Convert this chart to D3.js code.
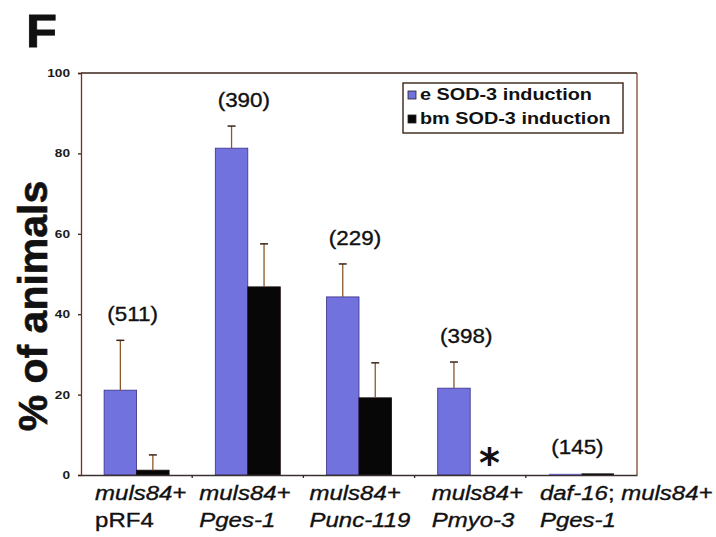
<!DOCTYPE html>
<html>
<head>
<meta charset="utf-8">
<script src="https://cdn.jsdelivr.net/npm/d3@7"></script>
<style>
  html, body { margin: 0; padding: 0; background: #ffffff; }
  svg { display: block; }
</style>
</head>
<body>
<script>
// Strains / constructs along the x axis (two text lines each)
const categoryLine1 = ["muls84+", "muls84+", "muls84+", "muls84+", "daf-16; muls84+"];
const categoryLine2 = ["pRF4", "Pges-1", "Punc-119", "Pmyo-3", "Pges-1"];
const sampleSizes = ["(511)", "(390)", "(229)", "(398)", "(145)"];

// % of animals with SOD-3 induction
const seriesNames = ["e SOD-3 induction", "bm SOD-3 induction"];
const eValues  = [21.1, 81.3, 44.3, 21.6, 0.3];
const eErrors  = [12.4, 5.5, 8.2, 6.5, 0];
const bmValues = [1.2, 46.8, 19.2, 0, 0.4];
const bmErrors = [3.8, 10.7, 8.7, 0, 0];

const yTicks = [0, 20, 40, 60, 80, 100];

const W = 716, H = 537;
const plot = { left: 81, right: 637, top: 73, bottom: 475 };
const blue = "#7272de", blueEdge = "#3b2f86", errColor = "#8a5a2a";
const sansFont = "'Liberation Sans', Arial, Helvetica, sans-serif";

const svg = d3.select("body").append("svg").attr("width", W).attr("height", H);

const x = d3.scaleBand().domain(d3.range(categoryLine1.length))
  .range([plot.left, plot.right]).paddingInner(0).paddingOuter(0);
const groupWidth = 65;
const xs = d3.scaleBand().domain(d3.range(seriesNames.length)).range([0, groupWidth]);
const y = d3.scaleLinear().domain([0, 100]).range([plot.bottom, plot.top]);
const groupLeft = i => x(i) + (x.bandwidth() - groupWidth) / 2;

// Text helper: horizontally widened sans text, optionally thickened
function wideText(parent, tx, ty, str, opts) {
  const t = parent.append("text")
    .attr("transform", `translate(${tx},${ty}) scale(${opts.sx || 1},1)`)
    .attr("font-family", sansFont)
    .attr("font-size", opts.size)
    .attr("font-weight", opts.weight || "normal")
    .attr("font-style", opts.style || "normal")
    .attr("text-anchor", opts.anchor || "start")
    .attr("fill", opts.fill || "#111")
    .text(str);
  if (opts.thick) t.attr("stroke", opts.fill || "#111").attr("stroke-width", opts.thick);
  return t;
}

// Panel letter
wideText(svg, 26, 47, "F", { size: 47, weight: "bold", sx: 1.08, thick: 0.8 });

// Frame (top and right edges)
svg.append("line").attr("x1", plot.left).attr("x2", plot.right)
  .attr("y1", plot.top).attr("y2", plot.top).attr("stroke", "#3a2418").attr("stroke-width", 1.6);
svg.append("line").attr("x1", plot.right).attr("x2", plot.right)
  .attr("y1", plot.top).attr("y2", plot.bottom).attr("stroke", "#7a3a22").attr("stroke-width", 1.2);

// Y axis
const yAxis = svg.append("g").attr("transform", `translate(${plot.left},0)`)
  .call(d3.axisLeft(y).tickValues(yTicks).tickSize(3).tickFormat(""));
yAxis.select(".domain").attr("stroke", "#7a2e22").attr("stroke-width", 1.3);
yAxis.selectAll(".tick line").attr("stroke", "#3a2418").attr("stroke-width", 1.3);
yTicks.forEach(v => {
  wideText(svg, 70, y(v) + 4, String(v), { size: 10.5, weight: "bold", sx: 1.3, anchor: "end", fill: "#1a1a1a" });
});

// Y title
svg.append("text")
  .attr("transform", `translate(47,306) rotate(-90)`)
  .attr("font-family", sansFont).attr("font-size", 41).attr("font-weight", "bold")
  .attr("text-anchor", "middle").attr("fill", "#111")
  .attr("stroke", "#111").attr("stroke-width", 0.6)
  .text("% of animals");

// Bars
const seriesValues = [eValues, bmValues];
const seriesErrors = [eErrors, bmErrors];
const seriesFill = [blue, "#070707"];
const seriesEdge = [blueEdge, "#1a0c0c"];

seriesValues.forEach((vals, s) => {
  svg.append("g").selectAll("rect").data(vals).join("rect")
    .attr("x", (d, i) => groupLeft(i) + xs(s))
    .attr("y", d => y(d))
    .attr("width", xs.bandwidth())
    .attr("height", d => y(0) - y(d))
    .attr("fill", seriesFill[s])
    .attr("stroke", d => d > 1 ? seriesEdge[s] : "none")
    .attr("stroke-width", 0.8);
});

// Error bars (upper only)
seriesValues.forEach((vals, s) => {
  const g = svg.append("g");
  vals.forEach((v, i) => {
    const e = seriesErrors[s][i];
    if (e <= 0) return;
    const cx = groupLeft(i) + xs(s) + xs.bandwidth() / 2;
    g.append("line").attr("x1", cx).attr("x2", cx).attr("y1", y(v)).attr("y2", y(v + e))
      .attr("stroke", errColor).attr("stroke-width", 1.3);
    g.append("line").attr("x1", cx - 4).attr("x2", cx + 4).attr("y1", y(v + e)).attr("y2", y(v + e))
      .attr("stroke", "#3a2418").attr("stroke-width", 1.5);
  });
});

// X axis
const xAxis = svg.append("g").attr("transform", `translate(0,${plot.bottom})`)
  .call(d3.axisBottom(x).tickValues([]).tickSizeOuter(0));
xAxis.select(".domain").attr("stroke", "#3a3030").attr("stroke-width", 1.4);
d3.range(1, categoryLine1.length).forEach(i => {
  svg.append("line").attr("x1", x(i)).attr("x2", x(i))
    .attr("y1", plot.bottom).attr("y2", plot.bottom + 3)
    .attr("stroke", "#2a2a2a").attr("stroke-width", 1.3);
});

// Sample-size labels above each group
sampleSizes.forEach((lab, i) => {
  const top = Math.max(eValues[i] + eErrors[i], bmValues[i] + bmErrors[i]);
  wideText(svg, groupLeft(i) + groupWidth / 2 - 4, y(top) - 19, lab,
    { size: 20, sx: 1.12, anchor: "middle", fill: "#111", thick: 0.35 });
});

// Zero-value marker for the bm series in group 4
svg.append("text")
  .attr("x", groupLeft(3) + xs(1) + xs.bandwidth() / 2 + 3).attr("y", plot.bottom + 2)
  .attr("font-family", "'DejaVu Sans', sans-serif").attr("font-size", 40).attr("font-weight", "bold")
  .attr("text-anchor", "middle").attr("fill", "#111").text("*");

// Category labels
const labelShift = [-9, -16, -17, -6, -9];
const catOpts = { size: 20.5, sx: 1.17, thick: 0.35 };
categoryLine1.forEach((l1, i) => {
  const lx = groupLeft(i) + labelShift[i];
  if (l1.startsWith("daf-16;")) {
    const t = wideText(svg, lx, 500, "", Object.assign({ style: "italic" }, catOpts));
    t.append("tspan").text("daf-16");
    t.append("tspan").attr("font-style", "normal").text("; ");
    t.append("tspan").text("muls84+");
  } else {
    wideText(svg, lx, 500, l1, Object.assign({ style: "italic" }, catOpts));
  }
  const l2 = categoryLine2[i];
  wideText(svg, lx, 527, l2, Object.assign({ style: l2 === "pRF4" ? "normal" : "italic" }, catOpts));
});

// Legend
const lg = svg.append("g");
lg.append("rect").attr("x", 403).attr("y", 83).attr("width", 220).attr("height", 50)
  .attr("fill", "#fff").attr("stroke", "#3a2418").attr("stroke-width", 1.4);
seriesNames.forEach((name, s) => {
  const ly = 100 + s * 24;
  lg.append("rect").attr("x", 408).attr("y", ly - 9).attr("width", 8).attr("height", 8)
    .attr("fill", seriesFill[s]).attr("stroke", "#222").attr("stroke-width", 0.8);
  wideText(lg, 420, ly, name, { size: 16, weight: "bold", sx: 1.24, fill: "#111" });
});
</script>
</body>
</html>
